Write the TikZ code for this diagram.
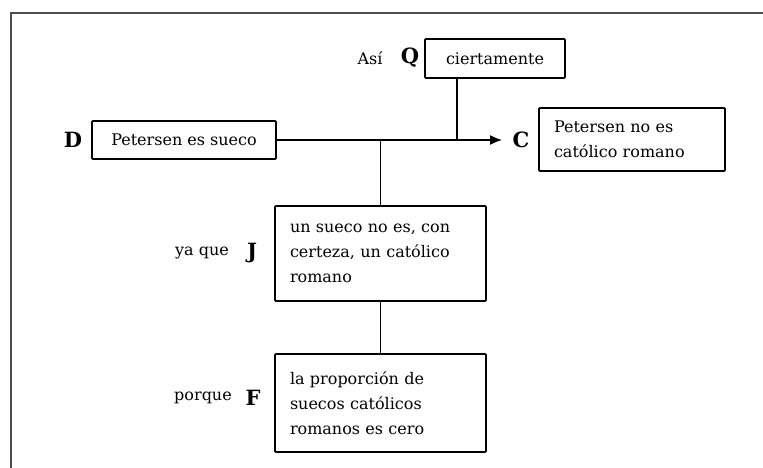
\documentclass[tikz,border=0pt]{standalone}
\usepackage{fontspec}
\setmainfont{DejaVu Serif}
\usetikzlibrary{arrows.meta}

\begin{document}
\begin{tikzpicture}[x=1pt, y=-1pt,
  box/.style={draw, line width=1.6pt, rounded corners=0.8pt, inner xsep=15pt, inner ysep=0pt, font=\fontsize{16}{25}\selectfont},
  tag/.style={font=\fontsize{16}{20}\selectfont},
  letter/.style={font=\bfseries\fontsize{21}{24}\selectfont},
  link/.style={line width=1.8pt}]
  \useasboundingbox (0,0) rectangle (763,468);
  \draw [gray!60!black, line width=2pt] (11,468) -- (11,13) -- (763,13);

  \node [box, minimum width=140pt, minimum height=39pt] (qbox) at (495,58.5) {ciertamente};
  \node [letter] (qlab) at (410,58) {Q};
  \node [tag] (asi) at (370,58) {Así};

  \node [box, minimum width=184pt, minimum height=38pt] (dbox) at (184,140) {Petersen es sueco};
  \node [letter] (dlab) at (73,140) {D};

  \node [box, text width=156pt, minimum height=63pt, align=left] (cbox) at (632,139.5) {Petersen no es\\católico romano};
  \node [letter] (clab) at (521,140) {C};

  \node [box, text width=181pt, minimum height=95pt, align=left] (jbox) at (380.5,253.5) {un sueco no es, con\\certeza, un católico\\romano};
  \node [letter] (jlab) at (252,253) {J};
  \node [tag] (yaque) at (202,253) {ya que};

  \node [box, text width=181pt, minimum height=98pt, align=left] (fbox) at (380.5,403) {la proporción de\\suecos católicos\\romanos es cero};
  \node [letter] (flab) at (253,398) {F};
  \node [tag] (porque) at (203,398) {porque};

  \coordinate (qjoin) at (457,140);
  \coordinate (jjoin) at (380.5,140);

  \draw [link, -{Latex[length=12pt, width=10pt]}, shorten >=7pt] (dbox.east) -- (clab.west);
  \draw [link] (qbox.south -| qjoin) -- (qjoin);
  \draw [link] (jjoin) -- (jbox.north);
  \draw [link] (jbox.south) -- (fbox.north);
\end{tikzpicture}
\end{document}
